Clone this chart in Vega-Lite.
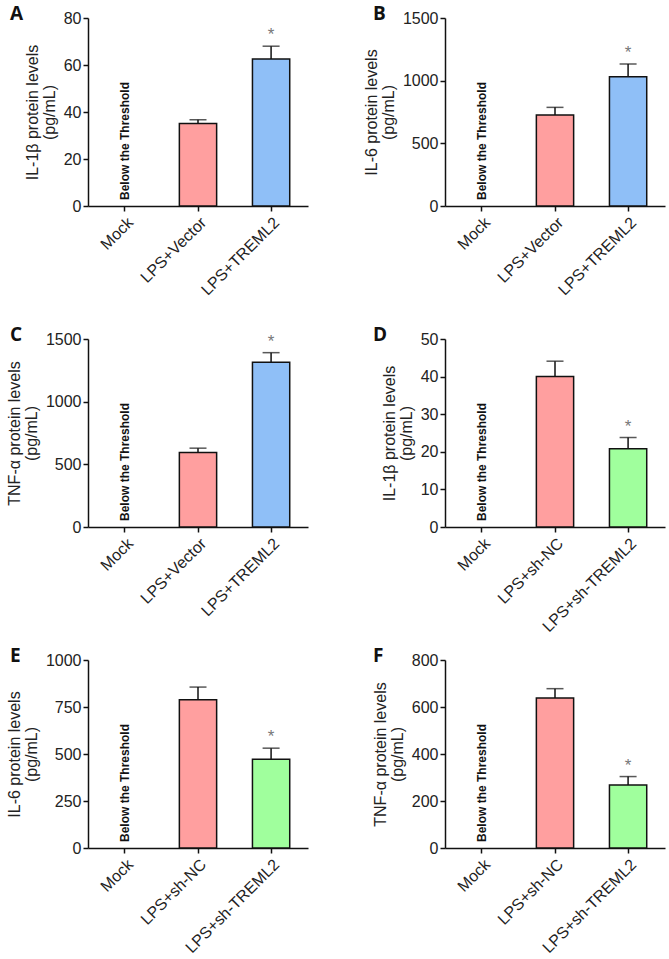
{
  "$schema": "https://vega.github.io/schema/vega-lite/v6.json",
  "padding": {"left": 6, "top": 5, "right": 5, "bottom": 2},
  "background": "white",
  "datasets": {
    "d": [
      {"panel": "A", "group": "Mock", "mean": 0, "upper": null, "kind": "none", "star": "", "note": "Below the Threshold"},
      {"panel": "A", "group": "LPS+Vector", "mean": 35.1, "upper": 36.7, "kind": "pink", "star": "", "note": ""},
      {"panel": "A", "group": "LPS+TREML2", "mean": 62.6, "upper": 68.0, "kind": "blue", "star": "*", "note": ""},
      {"panel": "B", "group": "Mock", "mean": 0, "upper": null, "kind": "none", "star": "", "note": "Below the Threshold"},
      {"panel": "B", "group": "LPS+Vector", "mean": 726, "upper": 787, "kind": "pink", "star": "", "note": ""},
      {"panel": "B", "group": "LPS+TREML2", "mean": 1032, "upper": 1133, "kind": "blue", "star": "*", "note": ""},
      {"panel": "C", "group": "Mock", "mean": 0, "upper": null, "kind": "none", "star": "", "note": "Below the Threshold"},
      {"panel": "C", "group": "LPS+Vector", "mean": 595, "upper": 629, "kind": "pink", "star": "", "note": ""},
      {"panel": "C", "group": "LPS+TREML2", "mean": 1315, "upper": 1391, "kind": "blue", "star": "*", "note": ""},
      {"panel": "D", "group": "Mock", "mean": 0, "upper": null, "kind": "none", "star": "", "note": "Below the Threshold"},
      {"panel": "D", "group": "LPS+sh-NC", "mean": 40.0, "upper": 44.1, "kind": "pink", "star": "", "note": ""},
      {"panel": "D", "group": "LPS+sh-TREML2", "mean": 20.8, "upper": 23.8, "kind": "green", "star": "*", "note": ""},
      {"panel": "E", "group": "Mock", "mean": 0, "upper": null, "kind": "none", "star": "", "note": "Below the Threshold"},
      {"panel": "E", "group": "LPS+sh-NC", "mean": 788, "upper": 856, "kind": "pink", "star": "", "note": ""},
      {"panel": "E", "group": "LPS+sh-TREML2", "mean": 472, "upper": 531, "kind": "green", "star": "*", "note": ""},
      {"panel": "F", "group": "Mock", "mean": 0, "upper": null, "kind": "none", "star": "", "note": "Below the Threshold"},
      {"panel": "F", "group": "LPS+sh-NC", "mean": 638, "upper": 678, "kind": "pink", "star": "", "note": ""},
      {"panel": "F", "group": "LPS+sh-TREML2", "mean": 268, "upper": 304, "kind": "green", "star": "*", "note": ""}
    ]
  },
  "data": {"name": "d"},
  "columns": 2,
  "bounds": "flush",
  "spacing": {"row": 133, "column": 137},
  "concat": [
    {
      "width": 220, "height": 188,
      "title": {"text": "A", "dx": -78},
      "transform": [{"filter": "datum.panel === 'A'"}],
      "encoding": {"x": {"field": "group", "type": "nominal", "sort": ["Mock", "LPS+Vector", "LPS+TREML2"], "scale": {"paddingInner": 0.49, "paddingOuter": 0.25}, "title": null}},
      "layer": [
        {"transform": [{"filter": "datum.upper != null"}], "mark": {"type": "rule", "color": "#111", "strokeWidth": 1.5}, "encoding": {"y": {"field": "mean", "type": "quantitative", "title": ["IL-1β protein levels", "(pg/mL)"], "scale": {"domain": [0, 80], "nice": false}, "axis": {"values": [0, 20, 40, 60, 80]}}, "y2": {"field": "upper"}}},
        {"transform": [{"filter": "datum.mean > 0"}], "mark": {"type": "bar", "stroke": "#111", "strokeWidth": 1.5}, "encoding": {"y": {"field": "mean", "type": "quantitative", "title": ["IL-1β protein levels", "(pg/mL)"], "scale": {"domain": [0, 80], "nice": false}, "axis": {"values": [0, 20, 40, 60, 80]}}, "color": {"field": "kind", "type": "nominal", "scale": {"domain": ["pink", "blue", "green"], "range": ["#FF9F9F", "#8FBFF7", "#A0FF9D"]}, "legend": null}}},
        {"transform": [{"filter": "datum.upper != null"}], "mark": {"type": "tick", "color": "#111", "size": 17, "thickness": 1.5}, "encoding": {"y": {"field": "upper", "type": "quantitative", "title": ["IL-1β protein levels", "(pg/mL)"], "scale": {"domain": [0, 80], "nice": false}, "axis": {"values": [0, 20, 40, 60, 80]}}}},
        {"transform": [{"filter": "datum.star !== ''"}], "mark": {"type": "text", "baseline": "bottom", "dy": -2, "fontSize": 17, "color": "#777", "font": "Liberation Sans"}, "encoding": {"y": {"field": "upper", "type": "quantitative", "title": ["IL-1β protein levels", "(pg/mL)"], "scale": {"domain": [0, 80], "nice": false}, "axis": {"values": [0, 20, 40, 60, 80]}}, "text": {"field": "star"}}},
        {"transform": [{"filter": "datum.note !== ''"}], "mark": {"type": "text", "angle": 270, "align": "left", "baseline": "middle", "dx": 6, "fontSize": 12, "fontWeight": "bold", "color": "#111", "font": "Liberation Sans"}, "encoding": {"y": {"field": "mean", "type": "quantitative", "title": ["IL-1β protein levels", "(pg/mL)"], "scale": {"domain": [0, 80], "nice": false}, "axis": {"values": [0, 20, 40, 60, 80]}}, "text": {"field": "note"}}}
      ]
    },
    {
      "width": 220, "height": 188,
      "title": {"text": "B", "dx": -72},
      "transform": [{"filter": "datum.panel === 'B'"}],
      "encoding": {"x": {"field": "group", "type": "nominal", "sort": ["Mock", "LPS+Vector", "LPS+TREML2"], "scale": {"paddingInner": 0.49, "paddingOuter": 0.25}, "title": null}},
      "layer": [
        {"transform": [{"filter": "datum.upper != null"}], "mark": {"type": "rule", "color": "#111", "strokeWidth": 1.5}, "encoding": {"y": {"field": "mean", "type": "quantitative", "title": ["IL-6 protein levels", "(pg/mL)"], "scale": {"domain": [0, 1500], "nice": false}, "axis": {"values": [0, 500, 1000, 1500]}}, "y2": {"field": "upper"}}},
        {"transform": [{"filter": "datum.mean > 0"}], "mark": {"type": "bar", "stroke": "#111", "strokeWidth": 1.5}, "encoding": {"y": {"field": "mean", "type": "quantitative", "title": ["IL-6 protein levels", "(pg/mL)"], "scale": {"domain": [0, 1500], "nice": false}, "axis": {"values": [0, 500, 1000, 1500]}}, "color": {"field": "kind", "type": "nominal", "scale": {"domain": ["pink", "blue", "green"], "range": ["#FF9F9F", "#8FBFF7", "#A0FF9D"]}, "legend": null}}},
        {"transform": [{"filter": "datum.upper != null"}], "mark": {"type": "tick", "color": "#111", "size": 17, "thickness": 1.5}, "encoding": {"y": {"field": "upper", "type": "quantitative", "title": ["IL-6 protein levels", "(pg/mL)"], "scale": {"domain": [0, 1500], "nice": false}, "axis": {"values": [0, 500, 1000, 1500]}}}},
        {"transform": [{"filter": "datum.star !== ''"}], "mark": {"type": "text", "baseline": "bottom", "dy": -2, "fontSize": 17, "color": "#777", "font": "Liberation Sans"}, "encoding": {"y": {"field": "upper", "type": "quantitative", "title": ["IL-6 protein levels", "(pg/mL)"], "scale": {"domain": [0, 1500], "nice": false}, "axis": {"values": [0, 500, 1000, 1500]}}, "text": {"field": "star"}}},
        {"transform": [{"filter": "datum.note !== ''"}], "mark": {"type": "text", "angle": 270, "align": "left", "baseline": "middle", "dx": 6, "fontSize": 12, "fontWeight": "bold", "color": "#111", "font": "Liberation Sans"}, "encoding": {"y": {"field": "mean", "type": "quantitative", "title": ["IL-6 protein levels", "(pg/mL)"], "scale": {"domain": [0, 1500], "nice": false}, "axis": {"values": [0, 500, 1000, 1500]}}, "text": {"field": "note"}}}
      ]
    },
    {
      "width": 220, "height": 188,
      "title": {"text": "C", "dx": -78},
      "transform": [{"filter": "datum.panel === 'C'"}],
      "encoding": {"x": {"field": "group", "type": "nominal", "sort": ["Mock", "LPS+Vector", "LPS+TREML2"], "scale": {"paddingInner": 0.49, "paddingOuter": 0.25}, "title": null}},
      "layer": [
        {"transform": [{"filter": "datum.upper != null"}], "mark": {"type": "rule", "color": "#111", "strokeWidth": 1.5}, "encoding": {"y": {"field": "mean", "type": "quantitative", "title": ["TNF-α protein levels", "(pg/mL)"], "scale": {"domain": [0, 1500], "nice": false}, "axis": {"values": [0, 500, 1000, 1500]}}, "y2": {"field": "upper"}}},
        {"transform": [{"filter": "datum.mean > 0"}], "mark": {"type": "bar", "stroke": "#111", "strokeWidth": 1.5}, "encoding": {"y": {"field": "mean", "type": "quantitative", "title": ["TNF-α protein levels", "(pg/mL)"], "scale": {"domain": [0, 1500], "nice": false}, "axis": {"values": [0, 500, 1000, 1500]}}, "color": {"field": "kind", "type": "nominal", "scale": {"domain": ["pink", "blue", "green"], "range": ["#FF9F9F", "#8FBFF7", "#A0FF9D"]}, "legend": null}}},
        {"transform": [{"filter": "datum.upper != null"}], "mark": {"type": "tick", "color": "#111", "size": 17, "thickness": 1.5}, "encoding": {"y": {"field": "upper", "type": "quantitative", "title": ["TNF-α protein levels", "(pg/mL)"], "scale": {"domain": [0, 1500], "nice": false}, "axis": {"values": [0, 500, 1000, 1500]}}}},
        {"transform": [{"filter": "datum.star !== ''"}], "mark": {"type": "text", "baseline": "bottom", "dy": -2, "fontSize": 17, "color": "#777", "font": "Liberation Sans"}, "encoding": {"y": {"field": "upper", "type": "quantitative", "title": ["TNF-α protein levels", "(pg/mL)"], "scale": {"domain": [0, 1500], "nice": false}, "axis": {"values": [0, 500, 1000, 1500]}}, "text": {"field": "star"}}},
        {"transform": [{"filter": "datum.note !== ''"}], "mark": {"type": "text", "angle": 270, "align": "left", "baseline": "middle", "dx": 6, "fontSize": 12, "fontWeight": "bold", "color": "#111", "font": "Liberation Sans"}, "encoding": {"y": {"field": "mean", "type": "quantitative", "title": ["TNF-α protein levels", "(pg/mL)"], "scale": {"domain": [0, 1500], "nice": false}, "axis": {"values": [0, 500, 1000, 1500]}}, "text": {"field": "note"}}}
      ]
    },
    {
      "width": 220, "height": 188,
      "title": {"text": "D", "dx": -72},
      "transform": [{"filter": "datum.panel === 'D'"}],
      "encoding": {"x": {"field": "group", "type": "nominal", "sort": ["Mock", "LPS+sh-NC", "LPS+sh-TREML2"], "scale": {"paddingInner": 0.49, "paddingOuter": 0.25}, "title": null}},
      "layer": [
        {"transform": [{"filter": "datum.upper != null"}], "mark": {"type": "rule", "color": "#111", "strokeWidth": 1.5}, "encoding": {"y": {"field": "mean", "type": "quantitative", "title": ["IL-1β protein levels", "(pg/mL)"], "scale": {"domain": [0, 50], "nice": false}, "axis": {"values": [0, 10, 20, 30, 40, 50]}}, "y2": {"field": "upper"}}},
        {"transform": [{"filter": "datum.mean > 0"}], "mark": {"type": "bar", "stroke": "#111", "strokeWidth": 1.5}, "encoding": {"y": {"field": "mean", "type": "quantitative", "title": ["IL-1β protein levels", "(pg/mL)"], "scale": {"domain": [0, 50], "nice": false}, "axis": {"values": [0, 10, 20, 30, 40, 50]}}, "color": {"field": "kind", "type": "nominal", "scale": {"domain": ["pink", "blue", "green"], "range": ["#FF9F9F", "#8FBFF7", "#A0FF9D"]}, "legend": null}}},
        {"transform": [{"filter": "datum.upper != null"}], "mark": {"type": "tick", "color": "#111", "size": 17, "thickness": 1.5}, "encoding": {"y": {"field": "upper", "type": "quantitative", "title": ["IL-1β protein levels", "(pg/mL)"], "scale": {"domain": [0, 50], "nice": false}, "axis": {"values": [0, 10, 20, 30, 40, 50]}}}},
        {"transform": [{"filter": "datum.star !== ''"}], "mark": {"type": "text", "baseline": "bottom", "dy": -2, "fontSize": 17, "color": "#777", "font": "Liberation Sans"}, "encoding": {"y": {"field": "upper", "type": "quantitative", "title": ["IL-1β protein levels", "(pg/mL)"], "scale": {"domain": [0, 50], "nice": false}, "axis": {"values": [0, 10, 20, 30, 40, 50]}}, "text": {"field": "star"}}},
        {"transform": [{"filter": "datum.note !== ''"}], "mark": {"type": "text", "angle": 270, "align": "left", "baseline": "middle", "dx": 6, "fontSize": 12, "fontWeight": "bold", "color": "#111", "font": "Liberation Sans"}, "encoding": {"y": {"field": "mean", "type": "quantitative", "title": ["IL-1β protein levels", "(pg/mL)"], "scale": {"domain": [0, 50], "nice": false}, "axis": {"values": [0, 10, 20, 30, 40, 50]}}, "text": {"field": "note"}}}
      ]
    },
    {
      "width": 220, "height": 188,
      "title": {"text": "E", "dx": -78},
      "transform": [{"filter": "datum.panel === 'E'"}],
      "encoding": {"x": {"field": "group", "type": "nominal", "sort": ["Mock", "LPS+sh-NC", "LPS+sh-TREML2"], "scale": {"paddingInner": 0.49, "paddingOuter": 0.25}, "title": null}},
      "layer": [
        {"transform": [{"filter": "datum.upper != null"}], "mark": {"type": "rule", "color": "#111", "strokeWidth": 1.5}, "encoding": {"y": {"field": "mean", "type": "quantitative", "title": ["IL-6 protein levels", "(pg/mL)"], "scale": {"domain": [0, 1000], "nice": false}, "axis": {"values": [0, 250, 500, 750, 1000]}}, "y2": {"field": "upper"}}},
        {"transform": [{"filter": "datum.mean > 0"}], "mark": {"type": "bar", "stroke": "#111", "strokeWidth": 1.5}, "encoding": {"y": {"field": "mean", "type": "quantitative", "title": ["IL-6 protein levels", "(pg/mL)"], "scale": {"domain": [0, 1000], "nice": false}, "axis": {"values": [0, 250, 500, 750, 1000]}}, "color": {"field": "kind", "type": "nominal", "scale": {"domain": ["pink", "blue", "green"], "range": ["#FF9F9F", "#8FBFF7", "#A0FF9D"]}, "legend": null}}},
        {"transform": [{"filter": "datum.upper != null"}], "mark": {"type": "tick", "color": "#111", "size": 17, "thickness": 1.5}, "encoding": {"y": {"field": "upper", "type": "quantitative", "title": ["IL-6 protein levels", "(pg/mL)"], "scale": {"domain": [0, 1000], "nice": false}, "axis": {"values": [0, 250, 500, 750, 1000]}}}},
        {"transform": [{"filter": "datum.star !== ''"}], "mark": {"type": "text", "baseline": "bottom", "dy": -2, "fontSize": 17, "color": "#777", "font": "Liberation Sans"}, "encoding": {"y": {"field": "upper", "type": "quantitative", "title": ["IL-6 protein levels", "(pg/mL)"], "scale": {"domain": [0, 1000], "nice": false}, "axis": {"values": [0, 250, 500, 750, 1000]}}, "text": {"field": "star"}}},
        {"transform": [{"filter": "datum.note !== ''"}], "mark": {"type": "text", "angle": 270, "align": "left", "baseline": "middle", "dx": 6, "fontSize": 12, "fontWeight": "bold", "color": "#111", "font": "Liberation Sans"}, "encoding": {"y": {"field": "mean", "type": "quantitative", "title": ["IL-6 protein levels", "(pg/mL)"], "scale": {"domain": [0, 1000], "nice": false}, "axis": {"values": [0, 250, 500, 750, 1000]}}, "text": {"field": "note"}}}
      ]
    },
    {
      "width": 220, "height": 188,
      "title": {"text": "F", "dx": -72},
      "transform": [{"filter": "datum.panel === 'F'"}],
      "encoding": {"x": {"field": "group", "type": "nominal", "sort": ["Mock", "LPS+sh-NC", "LPS+sh-TREML2"], "scale": {"paddingInner": 0.49, "paddingOuter": 0.25}, "title": null}},
      "layer": [
        {"transform": [{"filter": "datum.upper != null"}], "mark": {"type": "rule", "color": "#111", "strokeWidth": 1.5}, "encoding": {"y": {"field": "mean", "type": "quantitative", "title": ["TNF-α protein levels", "(pg/mL)"], "scale": {"domain": [0, 800], "nice": false}, "axis": {"values": [0, 200, 400, 600, 800]}}, "y2": {"field": "upper"}}},
        {"transform": [{"filter": "datum.mean > 0"}], "mark": {"type": "bar", "stroke": "#111", "strokeWidth": 1.5}, "encoding": {"y": {"field": "mean", "type": "quantitative", "title": ["TNF-α protein levels", "(pg/mL)"], "scale": {"domain": [0, 800], "nice": false}, "axis": {"values": [0, 200, 400, 600, 800]}}, "color": {"field": "kind", "type": "nominal", "scale": {"domain": ["pink", "blue", "green"], "range": ["#FF9F9F", "#8FBFF7", "#A0FF9D"]}, "legend": null}}},
        {"transform": [{"filter": "datum.upper != null"}], "mark": {"type": "tick", "color": "#111", "size": 17, "thickness": 1.5}, "encoding": {"y": {"field": "upper", "type": "quantitative", "title": ["TNF-α protein levels", "(pg/mL)"], "scale": {"domain": [0, 800], "nice": false}, "axis": {"values": [0, 200, 400, 600, 800]}}}},
        {"transform": [{"filter": "datum.star !== ''"}], "mark": {"type": "text", "baseline": "bottom", "dy": -2, "fontSize": 17, "color": "#777", "font": "Liberation Sans"}, "encoding": {"y": {"field": "upper", "type": "quantitative", "title": ["TNF-α protein levels", "(pg/mL)"], "scale": {"domain": [0, 800], "nice": false}, "axis": {"values": [0, 200, 400, 600, 800]}}, "text": {"field": "star"}}},
        {"transform": [{"filter": "datum.note !== ''"}], "mark": {"type": "text", "angle": 270, "align": "left", "baseline": "middle", "dx": 6, "fontSize": 12, "fontWeight": "bold", "color": "#111", "font": "Liberation Sans"}, "encoding": {"y": {"field": "mean", "type": "quantitative", "title": ["TNF-α protein levels", "(pg/mL)"], "scale": {"domain": [0, 800], "nice": false}, "axis": {"values": [0, 200, 400, 600, 800]}}, "text": {"field": "note"}}}
      ]
    }
  ],
  "config": {
    "view": {"stroke": null},
    "title": {"anchor": "start", "frame": "group", "font": "Open Sans", "fontSize": 19, "fontWeight": "bold", "color": "#111", "offset": -14},
    "axis": {"grid": false, "domainColor": "#111", "domainWidth": 1.5, "tickColor": "#111", "tickWidth": 1.5, "tickSize": 5, "labelFont": "Liberation Sans", "labelFontSize": 16, "labelColor": "#222", "labelPadding": 2, "titleFont": "Liberation Sans", "titleFontSize": 16, "titleFontWeight": "normal", "titleColor": "#222", "titlePadding": 6, "titleLineHeight": 17},
    "axisX": {"labelAngle": -45, "labelPadding": 3},
    "axisY": {"format": "d", "labelOverlap": false}
  }
}
